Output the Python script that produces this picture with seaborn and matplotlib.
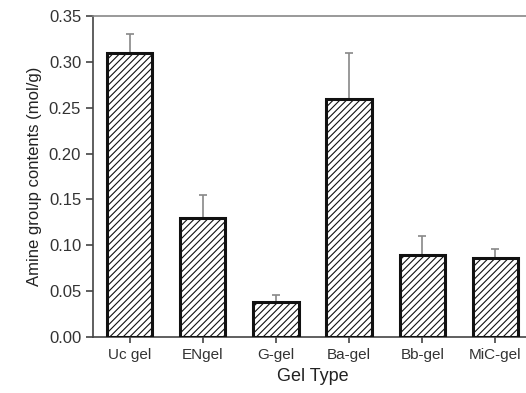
import matplotlib
matplotlib.use("Agg")
import matplotlib.pyplot as plt
import seaborn as sns
import pandas as pd

gels = ["Uc gel", "ENgel", "G-gel", "Ba-gel", "Bb-gel", "MiC-gel"]
amine = [0.310, 0.130, 0.038, 0.260, 0.089, 0.086]
err_up = [0.020, 0.025, 0.008, 0.050, 0.021, 0.010]

df = pd.DataFrame({"gel": gels, "amine": amine})

sns.set_theme(style="white")
plt.rcParams["font.family"] = ["Liberation Sans", "DejaVu Sans"]
plt.rcParams["hatch.color"] = "#6a6a6a"
plt.rcParams["hatch.linewidth"] = 0.8

fig = plt.figure(figsize=(5.26, 3.93), dpi=100)
ax = fig.add_axes([93 / 526, 56 / 393, 439 / 526, 321 / 393])

sns.barplot(data=df, x="gel", y="amine", color="white", edgecolor="#111111",
            linewidth=2.2, width=0.62, ax=ax, errorbar=None, zorder=3)
for p in ax.patches:
    p.set_hatch("/////")
    p.set_facecolor("white")

# upper error bars only
ax.errorbar(range(len(gels)), amine, yerr=[[0] * len(gels), err_up], fmt="none",
            ecolor="#888888", elinewidth=1.2, capsize=3, capthick=1.2, zorder=2)

ax.set_xlim(-0.5, 5.5)
ax.set_ylim(0, 0.35)
ax.set_yticks([0.00, 0.05, 0.10, 0.15, 0.20, 0.25, 0.30, 0.35])
ax.set_yticklabels([f"{v:.2f}" for v in ax.get_yticks()])
ax.set_xlabel("Gel Type", fontsize=13, color="#222222", labelpad=4)
ax.set_ylabel("Amine group contents (mol/g)", fontsize=12, color="#222222", labelpad=5)

for side in ["top", "left", "bottom"]:
    ax.spines[side].set_visible(True)
    ax.spines[side].set_color("#444444")
    ax.spines[side].set_linewidth(1.2)
ax.spines["right"].set_visible(False)
ax.spines["top"].set_color("#888888")

ax.tick_params(axis="y", direction="out", length=5, width=1.2, color="#444444",
               labelsize=12, labelcolor="#333333", left=True)
ax.tick_params(axis="x", direction="inout", length=8, width=1.2, color="#444444",
               labelsize=11, labelcolor="#333333", bottom=True, pad=4)

fig.savefig("out.png", dpi=100)
plt.close(fig)
